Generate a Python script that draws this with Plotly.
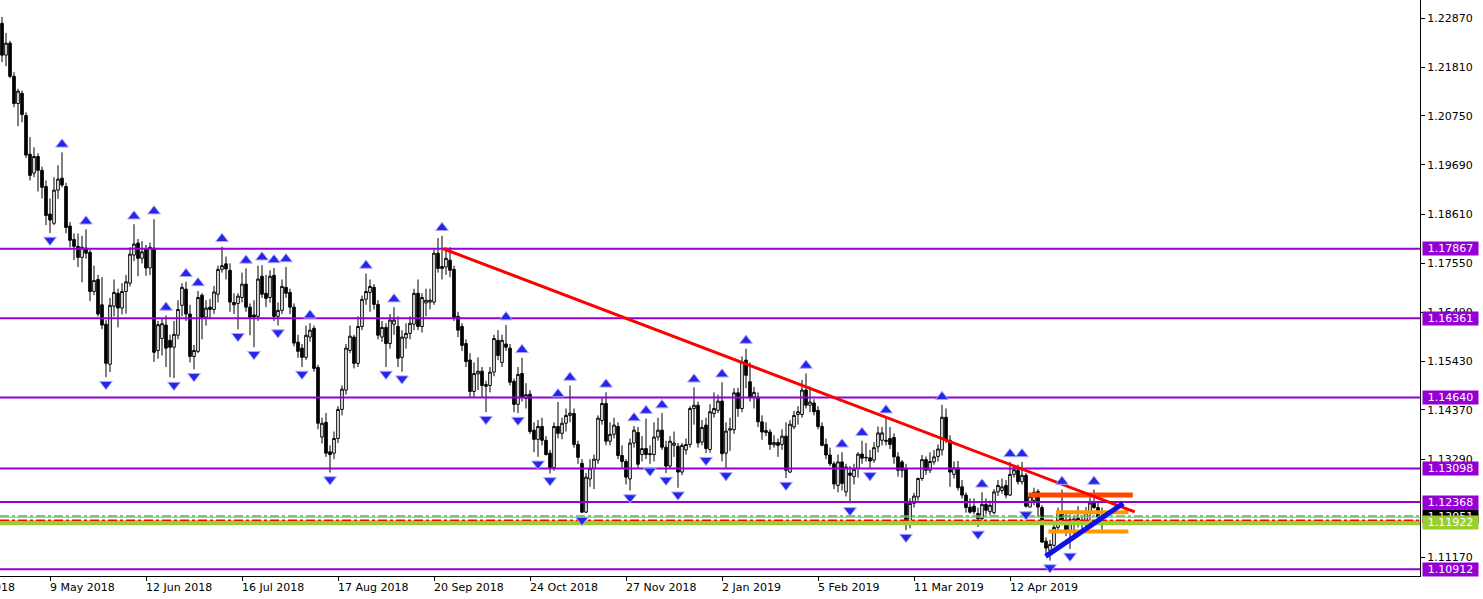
import plotly.graph_objects as go

# ---------------- data (EURUSD daily) ----------------
opens = [
    1.2276, 1.2207, 1.2233, 1.2161, 1.2102, 1.2124, 1.2076, 1.1992, 1.1951, 1.1987,
    1.1957, 1.1922, 1.1862, 1.1842, 1.1914, 1.1940, 1.1922, 1.1836, 1.1807, 1.1792,
    1.1768, 1.1788, 1.1779, 1.1694, 1.1720, 1.1665, 1.1623, 1.1536, 1.1662, 1.1690,
    1.1658, 1.1694, 1.1712, 1.1773, 1.1799, 1.1766, 1.1786, 1.1745, 1.1788, 1.1566,
    1.1592, 1.1621, 1.1588, 1.1573, 1.1599, 1.1664, 1.1699, 1.1645, 1.1553, 1.1564,
    1.1686, 1.1638, 1.1660, 1.1655, 1.1688, 1.1742, 1.1754, 1.1740, 1.1670, 1.1668,
    1.1681, 1.1710, 1.1660, 1.1643, 1.1640, 1.1727, 1.1690, 1.1681, 1.1729, 1.1640,
    1.1653, 1.1703, 1.1692, 1.1660, 1.1584, 1.1571, 1.1551, 1.1595, 1.1614, 1.1529,
    1.1378, 1.1410, 1.1346, 1.1343, 1.1375, 1.1438, 1.1480, 1.1566, 1.1595, 1.1538,
    1.1618, 1.1677, 1.1692, 1.1703, 1.1666, 1.1595, 1.1616, 1.1581, 1.1623, 1.1618,
    1.1551, 1.1593, 1.1603, 1.1623, 1.1690, 1.1618, 1.1669, 1.1671, 1.1671, 1.1777,
    1.1748, 1.1747, 1.1762, 1.1742, 1.1640, 1.1618, 1.1581, 1.1545, 1.1477, 1.1515,
    1.1521, 1.1488, 1.1490, 1.1519, 1.1588, 1.1540, 1.1580, 1.1571, 1.1499, 1.1449,
    1.1516, 1.1462, 1.1471, 1.1393, 1.1373, 1.1401, 1.1371, 1.1343, 1.1312, 1.1401,
    1.1386, 1.1408, 1.1425, 1.1429, 1.1362, 1.1321, 1.1215, 1.1287, 1.1310, 1.1328,
    1.1414, 1.1451, 1.1369, 1.1384, 1.1401, 1.1338, 1.1325, 1.1287, 1.1365, 1.1388,
    1.1340, 1.1353, 1.1342, 1.1340, 1.1378, 1.1393, 1.1356, 1.1315, 1.1360, 1.1358,
    1.1302, 1.1350, 1.1362, 1.1440, 1.1447, 1.1367, 1.1404, 1.1351, 1.1429, 1.1436,
    1.1456, 1.1343, 1.1393, 1.1394, 1.1474, 1.1440, 1.1545, 1.1498, 1.1465, 1.1465,
    1.1411, 1.1392, 1.1389, 1.1361, 1.1366, 1.1362, 1.1380, 1.1302, 1.1400, 1.1427,
    1.1427, 1.1480, 1.1447, 1.1452, 1.1436, 1.1401, 1.1362, 1.1339, 1.1320, 1.1273,
    1.1324, 1.1259, 1.1300, 1.1292, 1.1310, 1.1341, 1.1334, 1.1333, 1.1328, 1.1357,
    1.1371, 1.1371, 1.1375, 1.1377, 1.1335, 1.1324, 1.1310, 1.1192, 1.1234, 1.1248,
    1.1288, 1.1329, 1.1306, 1.1324, 1.1336, 1.1350, 1.1421, 1.1371, 1.1297, 1.1311,
    1.1270, 1.1252, 1.1226, 1.1228, 1.1212, 1.1201, 1.1232, 1.1216, 1.1214, 1.1259,
    1.1262, 1.1273, 1.1252, 1.1297, 1.1306, 1.1281, 1.1295, 1.1226, 1.1240, 1.1260,
    1.1225, 1.1152, 1.1132, 1.1143, 1.1182, 1.1215, 1.1197, 1.1171, 1.1195, 1.1202,
    1.1190, 1.1190, 1.1214, 1.1235, 1.1225, 1.1201,
]
highs = [
    1.2290, 1.2255, 1.2238, 1.2170, 1.2134, 1.2130, 1.2083, 1.2029, 1.2007, 1.1994,
    1.1965, 1.1935, 1.1896, 1.1942, 1.1968, 1.1996, 1.1930, 1.1845, 1.1820, 1.1820,
    1.1815, 1.1829, 1.1785, 1.1750, 1.1730, 1.1725, 1.1632, 1.1680, 1.1720, 1.1700,
    1.1712, 1.1730, 1.1790, 1.1840, 1.1808, 1.1803, 1.1795, 1.1800, 1.1851, 1.1630,
    1.1636, 1.1642, 1.1600, 1.1630, 1.1675, 1.1712, 1.1715, 1.1665, 1.1578, 1.1695,
    1.1690, 1.1675, 1.1678, 1.1706, 1.1750, 1.1791, 1.1770, 1.1755, 1.1690, 1.1690,
    1.1735, 1.1744, 1.1668, 1.1675, 1.1750, 1.1751, 1.1730, 1.1740, 1.1745, 1.1670,
    1.1720, 1.1747, 1.1700, 1.1668, 1.1600, 1.1580, 1.1620, 1.1625, 1.1620, 1.1535,
    1.1420, 1.1430, 1.1360, 1.1390, 1.1445, 1.1490, 1.1580, 1.1620, 1.1600, 1.1640,
    1.1685, 1.1733, 1.1720, 1.1710, 1.1675, 1.1630, 1.1625, 1.1645, 1.1660, 1.1640,
    1.1610, 1.1625, 1.1640, 1.1700, 1.1720, 1.1690, 1.1700, 1.1700, 1.1785, 1.1810,
    1.1815, 1.1790, 1.1790, 1.1750, 1.1650, 1.1625, 1.1590, 1.1560, 1.1540, 1.1551,
    1.1530, 1.1500, 1.1530, 1.1600, 1.1610, 1.1600, 1.1621, 1.1580, 1.1505, 1.1530,
    1.1550, 1.1495, 1.1480, 1.1410, 1.1415, 1.1420, 1.1380, 1.1350, 1.1410, 1.1454,
    1.1420, 1.1440, 1.1490, 1.1440, 1.1370, 1.1330, 1.1300, 1.1330, 1.1340, 1.1425,
    1.1465, 1.1475, 1.1410, 1.1420, 1.1410, 1.1360, 1.1330, 1.1375, 1.1402, 1.1400,
    1.1380, 1.1418, 1.1360, 1.1410, 1.1420, 1.1430, 1.1370, 1.1380, 1.1390, 1.1365,
    1.1365, 1.1375, 1.1445, 1.1486, 1.1455, 1.1415, 1.1420, 1.1449, 1.1475, 1.1470,
    1.1497, 1.1410, 1.1420, 1.1484, 1.1485, 1.1553, 1.1570, 1.1540, 1.1487, 1.1475,
    1.1425, 1.1410, 1.1395, 1.1382, 1.1375, 1.1395, 1.1410, 1.1415, 1.1435, 1.1445,
    1.1502, 1.1516, 1.1488, 1.1460, 1.1445, 1.1410, 1.1375, 1.1355, 1.1325, 1.1340,
    1.1345, 1.1320, 1.1315, 1.1320, 1.1345, 1.1370, 1.1365, 1.1350, 1.1367, 1.1401,
    1.1400, 1.1419, 1.1400, 1.1386, 1.1345, 1.1328, 1.1320, 1.1245, 1.1257, 1.1290,
    1.1339, 1.1336, 1.1345, 1.1350, 1.1362, 1.1448, 1.1440, 1.1382, 1.1325, 1.1326,
    1.1285, 1.1258, 1.1245, 1.1245, 1.1225, 1.1258, 1.1245, 1.1240, 1.1265, 1.1285,
    1.1288, 1.1285, 1.1324, 1.1315, 1.1318, 1.1324, 1.1300, 1.1250, 1.1268, 1.1265,
    1.1230, 1.1160, 1.1155, 1.1190, 1.1225, 1.1264, 1.1215, 1.1210, 1.1208, 1.1228,
    1.1205, 1.1226, 1.1251, 1.1264, 1.1235, 1.1225,
]
lows = [
    1.2192, 1.2183, 1.2157, 1.2094, 1.2053, 1.2061, 1.1984, 1.1935, 1.1942, 1.1911,
    1.1896, 1.1838, 1.1821, 1.1838, 1.1895, 1.1920, 1.1820, 1.1790, 1.1762, 1.1747,
    1.1714, 1.1765, 1.1673, 1.1686, 1.1640, 1.1612, 1.1508, 1.1519, 1.1640, 1.1616,
    1.1644, 1.1646, 1.1705, 1.1760, 1.1727, 1.1755, 1.1728, 1.1730, 1.1541, 1.1548,
    1.1555, 1.1530, 1.1508, 1.1506, 1.1590, 1.1640, 1.1630, 1.1540, 1.1525, 1.1560,
    1.1590, 1.1620, 1.1634, 1.1645, 1.1670, 1.1735, 1.1720, 1.1650, 1.1645, 1.1612,
    1.1670, 1.1650, 1.1599, 1.1573, 1.1630, 1.1680, 1.1660, 1.1670, 1.1630, 1.1620,
    1.1645, 1.1680, 1.1645, 1.1575, 1.1550, 1.1530, 1.1545, 1.1585, 1.1520, 1.1395,
    1.1364, 1.1335, 1.1301, 1.1330, 1.1365, 1.1425, 1.1470, 1.1560, 1.1527, 1.1530,
    1.1610, 1.1665, 1.1650, 1.1655, 1.1590, 1.1585, 1.1530, 1.1570, 1.1600, 1.1530,
    1.1520, 1.1570, 1.1590, 1.1610, 1.1610, 1.1605, 1.1640, 1.1655, 1.1665, 1.1735,
    1.1720, 1.1730, 1.1725, 1.1630, 1.1595, 1.1565, 1.1530, 1.1465, 1.1463, 1.1480,
    1.1465, 1.1432, 1.1475, 1.1510, 1.1545, 1.1530, 1.1565, 1.1490, 1.1432, 1.1430,
    1.1455, 1.1440, 1.1385, 1.1345, 1.1335, 1.1360, 1.1338, 1.1299, 1.1305, 1.1375,
    1.1373, 1.1390, 1.1410, 1.1355, 1.1320, 1.1213, 1.1213, 1.1270, 1.1265, 1.1320,
    1.1405, 1.1360, 1.1360, 1.1375, 1.1330, 1.1310, 1.1275, 1.1262, 1.1355, 1.1310,
    1.1325, 1.1330, 1.1320, 1.1325, 1.1370, 1.1350, 1.1300, 1.1310, 1.1335, 1.1268,
    1.1295, 1.1340, 1.1355, 1.1405, 1.1355, 1.1360, 1.1343, 1.1344, 1.1420, 1.1430,
    1.1325, 1.1310, 1.1348, 1.1385, 1.1422, 1.1432, 1.1484, 1.1455, 1.1440, 1.1400,
    1.1372, 1.1380, 1.1350, 1.1355, 1.1335, 1.1350, 1.1289, 1.1300, 1.1395, 1.1405,
    1.1420, 1.1440, 1.1432, 1.1425, 1.1395, 1.1358, 1.1330, 1.1315, 1.1265, 1.1258,
    1.1262, 1.1249, 1.1234, 1.1275, 1.1290, 1.1320, 1.1325, 1.1310, 1.1322, 1.1345,
    1.1360, 1.1360, 1.1352, 1.1320, 1.1292, 1.1290, 1.1176, 1.1180, 1.1225, 1.1240,
    1.1283, 1.1296, 1.1300, 1.1318, 1.1325, 1.1338, 1.1365, 1.1270, 1.1288, 1.1262,
    1.1245, 1.1214, 1.1212, 1.1210, 1.1183, 1.1195, 1.1210, 1.1208, 1.1210, 1.1250,
    1.1255, 1.1245, 1.1250, 1.1290, 1.1275, 1.1275, 1.1225, 1.1226, 1.1230, 1.1205,
    1.1148, 1.1120, 1.1110, 1.1140, 1.1170, 1.1190, 1.1163, 1.1135, 1.1166, 1.1182,
    1.1172, 1.1180, 1.1197, 1.1222, 1.1196, 1.1177,
]
closes = [
    1.2207, 1.2233, 1.2161, 1.2102, 1.2129, 1.2078, 1.1990, 1.1946, 1.1987, 1.1957,
    1.1920, 1.1859, 1.1849, 1.1914, 1.1938, 1.1925, 1.1833, 1.1805, 1.1792, 1.1768,
    1.1790, 1.1777, 1.1694, 1.1718, 1.1645, 1.1621, 1.1538, 1.1664, 1.1692, 1.1658,
    1.1694, 1.1715, 1.1775, 1.1797, 1.1766, 1.1780, 1.1745, 1.1790, 1.1562, 1.1622,
    1.1624, 1.1571, 1.1573, 1.1601, 1.1655, 1.1703, 1.1645, 1.1553, 1.1566, 1.1681,
    1.1638, 1.1658, 1.1655, 1.1693, 1.1742, 1.1750, 1.1743, 1.1671, 1.1665, 1.1684,
    1.1710, 1.1660, 1.1638, 1.1639, 1.1721, 1.1688, 1.1679, 1.1727, 1.1640, 1.1653,
    1.1705, 1.1690, 1.1660, 1.1582, 1.1564, 1.1551, 1.1599, 1.1610, 1.1527, 1.1408,
    1.1408, 1.1343, 1.1340, 1.1375, 1.1438, 1.1482, 1.1571, 1.1597, 1.1538, 1.1618,
    1.1677, 1.1694, 1.1705, 1.1666, 1.1599, 1.1616, 1.1581, 1.1632, 1.1632, 1.1549,
    1.1595, 1.1603, 1.1625, 1.1690, 1.1618, 1.1681, 1.1675, 1.1675, 1.1777, 1.1744,
    1.1744, 1.1766, 1.1740, 1.1638, 1.1610, 1.1577, 1.1542, 1.1477, 1.1516, 1.1521,
    1.1490, 1.1492, 1.1519, 1.1592, 1.1555, 1.1588, 1.1573, 1.1497, 1.1449, 1.1514,
    1.1464, 1.1470, 1.1390, 1.1373, 1.1401, 1.1371, 1.1340, 1.1312, 1.1401, 1.1386,
    1.1408, 1.1425, 1.1430, 1.1362, 1.1334, 1.1215, 1.1291, 1.1310, 1.1330, 1.1419,
    1.1451, 1.1369, 1.1384, 1.1404, 1.1338, 1.1325, 1.1291, 1.1365, 1.1393, 1.1319,
    1.1353, 1.1340, 1.1340, 1.1378, 1.1393, 1.1356, 1.1315, 1.1369, 1.1365, 1.1302,
    1.1360, 1.1362, 1.1440, 1.1447, 1.1365, 1.1399, 1.1353, 1.1433, 1.1440, 1.1456,
    1.1342, 1.1391, 1.1396, 1.1474, 1.1440, 1.1541, 1.1512, 1.1465, 1.1475, 1.1411,
    1.1389, 1.1388, 1.1362, 1.1366, 1.1360, 1.1380, 1.1306, 1.1406, 1.1425, 1.1433,
    1.1480, 1.1447, 1.1454, 1.1433, 1.1401, 1.1360, 1.1339, 1.1320, 1.1276, 1.1324,
    1.1277, 1.1313, 1.1295, 1.1308, 1.1341, 1.1332, 1.1333, 1.1326, 1.1355, 1.1387,
    1.1387, 1.1369, 1.1362, 1.1335, 1.1306, 1.1306, 1.1192, 1.1234, 1.1250, 1.1288,
    1.1329, 1.1306, 1.1325, 1.1335, 1.1352, 1.1421, 1.1371, 1.1302, 1.1311, 1.1268,
    1.1252, 1.1225, 1.1215, 1.1216, 1.1201, 1.1232, 1.1219, 1.1230, 1.1259, 1.1273,
    1.1270, 1.1252, 1.1297, 1.1307, 1.1281, 1.1295, 1.1228, 1.1249, 1.1258, 1.1226,
    1.1150, 1.1137, 1.1145, 1.1182, 1.1215, 1.1197, 1.1171, 1.1199, 1.1200, 1.1190,
    1.1192, 1.1214, 1.1235, 1.1225, 1.1205, 1.12051,
]

# bar indices where fractal arrows are shown
up_fractals = [15, 21, 33, 38, 41, 46, 49, 55, 61, 65, 68, 71, 77, 91, 98, 110, 126, 130,
               139, 142, 151, 158, 161, 165, 173, 180, 186, 201, 210, 215, 221, 235, 245,
               252, 255, 265, 273]
down_fractals = [12, 26, 43, 48, 59, 63, 69, 75, 82, 96, 100, 121, 129, 134, 137, 145, 157,
                 162, 166, 169, 176, 181, 196, 212, 217, 226, 244, 256, 262, 267]

# horizontal levels
purple_levels = [1.17867, 1.16361, 1.14640, 1.13098, 1.12368, 1.10912]
green_level = 1.11922
bid_price = 1.12051
green_dash_level = 1.12065
gray_level = 1.12040
red_dash_level = 1.11975

# drawn objects (bar index, price)
red_trend_x = [110.3, 283.2]
red_trend_y = [1.17867, 1.12154]
blue_trend_x = [260.9, 280.3]
blue_trend_y = [1.1119, 1.1234]
orangered_x = [256.6, 282.7]
orangered_y = [1.1252, 1.1252]
orange_mid_x = [263.5, 281.6]
orange_mid_y = [1.12147, 1.12147]
orange_low_x = [261.6, 281.6]
orange_low_y = [1.11728, 1.11728]

# axes
x_tick_idx = [-12, 12, 36, 60, 84, 108, 132, 156, 180, 204, 228, 252]
x_tick_labels = ["5 Apr 2018", "9 May 2018", "12 Jun 2018", "16 Jul 2018", "17 Aug 2018",
                 "20 Sep 2018", "24 Oct 2018", "27 Nov 2018", "2 Jan 2019", "5 Feb 2019",
                 "11 Mar 2019", "12 Apr 2019"]
y_ticks = [1.22870, 1.21810, 1.20750, 1.19690, 1.18610, 1.17550, 1.16490, 1.15430,
           1.14370, 1.13290, 1.11170]

# ---------------- figure ----------------
X0, X1 = -0.5, 354.5
Y0, Y1 = 1.10764, 1.23267
PX = (Y1 - Y0) / 576.0  # price per pixel
FONT = "DejaVu Sans"

n = len(closes)
xs = list(range(n))

fig = go.Figure()
fig.add_trace(go.Candlestick(
    x=xs, open=opens, high=highs, low=lows, close=closes,
    increasing=dict(line=dict(color="black", width=1), fillcolor="white"),
    decreasing=dict(line=dict(color="black", width=1), fillcolor="black"),
    whiskerwidth=0, hoverinfo="skip", showlegend=False,
))

def hline(level, color, width, dash="solid"):
    fig.add_trace(go.Scatter(x=[X0, X1], y=[level, level], mode="lines",
                             line=dict(color=color, width=width, dash=dash),
                             hoverinfo="skip", showlegend=False))

for lv in purple_levels:
    hline(lv, "#9400D3", 2)
hline(green_level, "#9ACD32", 5)
hline(green_dash_level, "#32CD32", 1.5, "dashdot")
hline(gray_level, "#A0A0A0", 1)
hline(red_dash_level, "#FF0000", 1.5, "dashdot")

def seg(x, y, color, width):
    fig.add_trace(go.Scatter(x=x, y=y, mode="lines", line=dict(color=color, width=width),
                             hoverinfo="skip", showlegend=False))

seg(orange_low_x, orange_low_y, "#FF9900", 4)
seg(orange_mid_x, orange_mid_y, "#FF9900", 4)
seg(orangered_x, orangered_y, "#FF4500", 5)
seg(red_trend_x, red_trend_y, "#FF0000", 3)
seg(blue_trend_x, blue_trend_y, "#1010E8", 5)

# fractal arrows
fig.add_trace(go.Scatter(
    x=up_fractals, y=[highs[i] + 8 * PX for i in up_fractals], mode="markers",
    marker=dict(symbol="triangle-up", size=11, color="#2626E6",
                line=dict(color="#A8A8FF", width=1)),
    hoverinfo="skip", showlegend=False))
fig.add_trace(go.Scatter(
    x=down_fractals, y=[lows[i] - 7 * PX for i in down_fractals], mode="markers",
    marker=dict(symbol="triangle-down", size=11, color="#2626E6",
                line=dict(color="#A8A8FF", width=1)),
    hoverinfo="skip", showlegend=False))

fig.update_layout(
    width=1483, height=599,
    margin=dict(l=0, r=63, t=0, b=23),
    paper_bgcolor="white", plot_bgcolor="white",
    showlegend=False, hovermode=False,
    boxgap=0.35, boxgroupgap=0,
    font=dict(family=FONT, size=11, color="black"),
)
fig.update_xaxes(range=[X0, X1], showgrid=False, zeroline=False, showline=True,
                 linecolor="black", linewidth=1, ticks="outside", ticklen=4,
                 tickcolor="black", tickvals=x_tick_idx, showticklabels=False,
                 rangeslider_visible=False)
fig.update_yaxes(range=[Y0, Y1], side="right", showgrid=False, zeroline=False,
                 showline=True, linecolor="black", linewidth=1, ticks="outside",
                 ticklen=4, tickcolor="black", tickvals=y_ticks,
                 ticktext=[f"{v:.5f}" for v in y_ticks],
                 tickfont=dict(family=FONT, size=11, color="black"))

# date labels, left-aligned at their ticks (MetaTrader style)
for k, lab in zip(x_tick_idx, x_tick_labels):
    fig.add_annotation(x=(k - X0) / (X1 - X0), xref="paper", xanchor="left", xshift=-2,
                       y=0, yref="paper", yanchor="top", yshift=-3,
                       text=lab, showarrow=False,
                       font=dict(family=FONT, size=11, color="black"))

def price_box(v, bg):
    fig.add_annotation(x=1, xref="paper", xanchor="left", xshift=2,
                       y=v, yref="y", yanchor="middle",
                       text=f"{v:.5f}", showarrow=False, bgcolor=bg,
                       width=55, height=13, align="center", borderpad=0,
                       font=dict(family=FONT, size=11, color="white"))

for lv in purple_levels:
    price_box(lv, "#9400D3")
price_box(bid_price, "#000000")
price_box(green_level, "#9ACD32")

fig.write_html("out.html",
               config={"displayModeBar": False, "staticPlot": True},
               post_script="document.body.style.margin='0';document.body.style.overflow='hidden';")
